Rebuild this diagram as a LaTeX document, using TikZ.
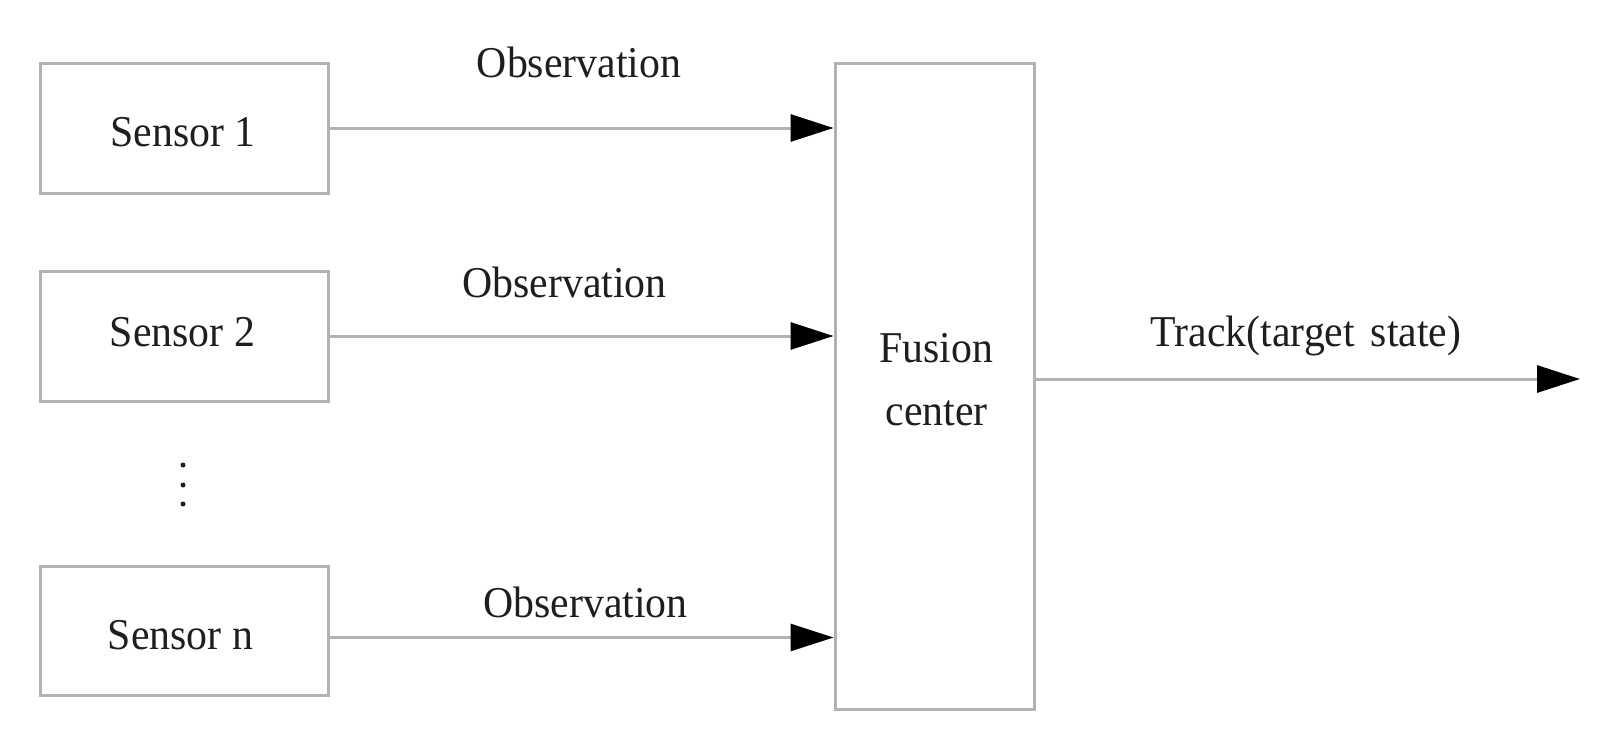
\documentclass[tikz,border=0pt]{standalone}
\usepackage{fontspec}
\setmainfont[FakeStretch=0.95]{Liberation Serif}
\usetikzlibrary{arrows.meta}
\definecolor{linegray}{RGB}{178,178,178}
\definecolor{txt}{RGB}{30,30,30}
\begin{document}
\begin{tikzpicture}[x=0.5pt,y=-0.5pt,
  sbox/.style={draw=linegray,line width=1.5pt,minimum width=144pt,minimum height=65pt,inner sep=0pt},
  fbox/.style={draw=linegray,line width=1.5pt,minimum width=99.5pt,minimum height=323pt,inner sep=0pt},
  lbl/.style={anchor=base,inner sep=0pt,text=txt,font=\fontsize{22}{31.5}\selectfont},
  conn/.style={draw=linegray,line width=1.5pt,-{Triangle[length=21.5pt,width=13.5pt,color=black]}},
  dotc/.style={fill=txt,draw=none}]
\useasboundingbox (0,0) rectangle (1607,755);
% boxes
\node[sbox] (s1) at (184,128) {};
\node[sbox] (s2) at (184,336) {};
\node[sbox,minimum height=64.5pt] (sn) at (184,630.5) {};
\node[fbox] (fc) at (934.5,386) {};
% box texts
\node[lbl] (t1) at (183,146) {Sensor 1};
\node[lbl] (t2) at (182.5,346) {Sensor 2};
\node[lbl] (tn) at (180.5,649) {Sensor n};
\node[lbl] (tf1) at (936.5,362) {Fusion};
\node[lbl] (tf2) at (936.5,425) {center};
% vertical dots
\fill[dotc] (183,465) circle (2.5);
\fill[dotc] (183,485) circle (2.5);
\fill[dotc] (183,504) circle (2.5);
% connectors
\coordinate (snout) at ([yshift=-3.5pt]sn.east);
\coordinate (out) at (1580,379);
\draw[conn] (s1.east) -- (s1.east -| fc.west);
\draw[conn] (s2.east) -- (s2.east -| fc.west);
\draw[conn] (snout) -- (snout -| fc.west);
\draw[conn] (fc.east |- out) -- (out);
% labels
\node[lbl] (o1) at (579,77) {Observation};
\node[lbl] (o2) at (564.5,297) {Observation};
\node[lbl] (o3) at (585.5,617) {Observation};
\node[lbl] (tr) at (1306,346) {Track(target\hspace{0.12em} state)};
\end{tikzpicture}
\end{document}
